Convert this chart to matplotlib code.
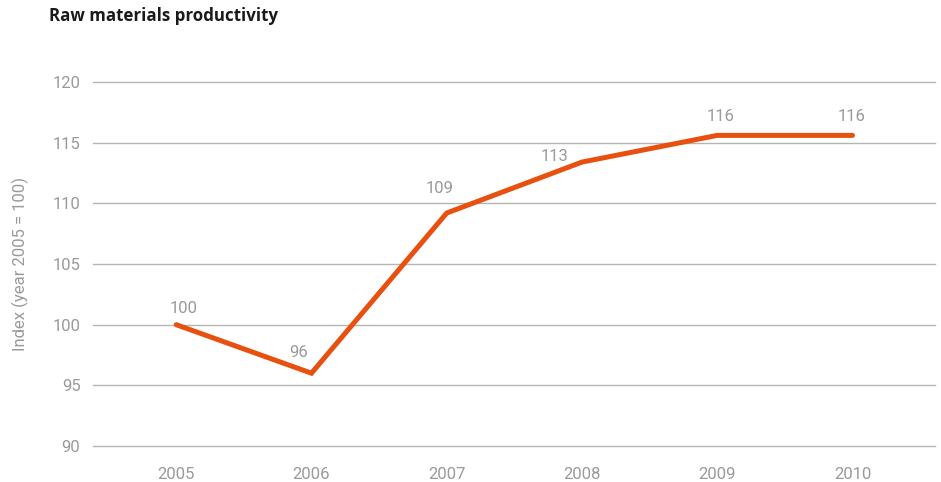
import matplotlib.pyplot as plt

# Raw materials productivity index, 2005 = 100
years = ["2005", "2006", "2007", "2008", "2009", "2010"]
index_values = [100.0, 96.0, 109.2, 113.4, 115.6, 115.6]
y_ticks = [90, 95, 100, 105, 110, 115, 120]

# where each value label sits relative to its point (pixels)
label_offsets = [(7, 16), (-13, 21), (-7, 25), (-27, 6), (3, 19), (-1, 19)]

ORANGE = "#E8500F"
GREY_TEXT = "#9a9a9a"
GRID = "#b4b4b4"

plt.rcParams["font.family"] = ["Roboto", "DejaVu Sans"]

fig = plt.figure(figsize=(9.41, 4.82), dpi=100)
ax = fig.add_axes([93 / 941, 1 - 446 / 482, (935 - 93) / 941, (446 - 82) / 482])

x = list(range(len(years)))
ax.plot(x, index_values, color=ORANGE, linewidth=3.6, solid_capstyle="round",
        solid_joinstyle="miter", zorder=3, clip_on=False)

for xi, val, (dx, dy) in zip(x, index_values, label_offsets):
    ax.annotate(f"{val:.0f}", (xi, val), xytext=(dx, dy), textcoords="offset pixels",
                ha="center", va="center", fontsize=12, color=GREY_TEXT)

for t in y_ticks:
    ax.axhline(t, color=GRID, linewidth=1.0, zorder=1, clip_on=False)

ax.set_xlim(-0.615, 5.61)
ax.set_ylim(90, 120)
ax.set_yticks(y_ticks)
ax.set_xticks(x)
ax.set_xticklabels(years)
ax.tick_params(axis="both", length=0, labelsize=12, labelcolor=GREY_TEXT)
ax.tick_params(axis="y", pad=9)
ax.tick_params(axis="x", pad=15)
for spine in ax.spines.values():
    spine.set_visible(False)

ax.set_ylabel("Index (year 2005 = 100)", fontsize=12, color=GREY_TEXT, labelpad=17)

fig.text(49 / 941, 1 - 16 / 482, "Raw materials productivity", fontsize=12.2,
         fontweight="bold", color="#1a1a1a", va="center", ha="left",
         family=["Open Sans", "DejaVu Sans"])

fig.savefig("out.png", dpi=100)
